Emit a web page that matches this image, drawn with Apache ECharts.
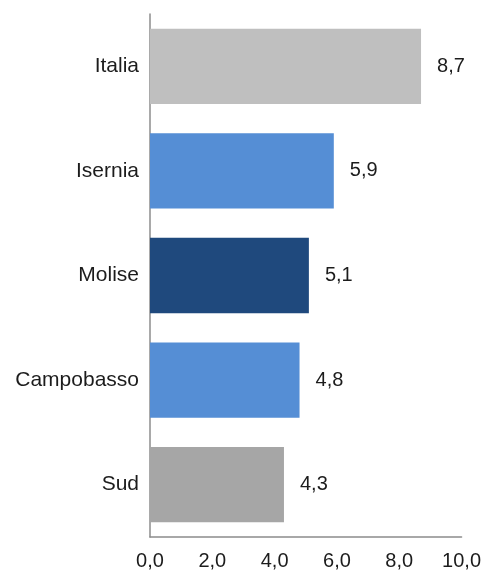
<!DOCTYPE html>
<html>
<head>
<meta charset="utf-8">
<script src="https://cdn.jsdelivr.net/npm/echarts@6/dist/echarts.min.js"></script>
<style>
  html, body { margin: 0; padding: 0; background: #fff; }
  #chart { width: 484px; height: 572px; }
</style>
</head>
<body>
<div id="chart"></div>
<script>
// Categories listed bottom-to-top (ECharts category y axis grows upward)
const categories = ['Sud', 'Campobasso', 'Molise', 'Isernia', 'Italia'];
const values = [4.3, 4.8, 5.1, 5.9, 8.7];
const barColors = ['#A6A6A6', '#558ED5', '#1F497D', '#558ED5', '#BFBFBF'];
const xTicks = { min: 0, max: 10, interval: 2 };

const fmt = v => Number(v).toFixed(1).replace('.', ',');
const font = 'Liberation Sans, Arial, sans-serif';
const textColor = '#1c1c1c';

const chart = echarts.init(document.getElementById('chart'), null, { renderer: 'canvas' });
chart.setOption({
  animation: false,
  backgroundColor: '#ffffff',
  grid: { left: 150, right: 22, top: 14, bottom: 35, containLabel: false },
  xAxis: {
    type: 'value',
    min: xTicks.min, max: xTicks.max, interval: xTicks.interval,
    axisLine: { show: true, lineStyle: { color: '#8C8C8C', width: 1.5 } },
    axisTick: { show: false },
    splitLine: { show: false },
    axisLabel: { formatter: fmt, color: textColor, fontSize: 20, fontFamily: font, margin: 14 }
  },
  yAxis: {
    type: 'category',
    data: categories,
    axisLine: { show: true, lineStyle: { color: '#8C8C8C', width: 1.5 } },
    axisTick: { show: false },
    axisLabel: { color: textColor, fontSize: 21, fontFamily: font, margin: 11 }
  },
  series: [{
    type: 'bar',
    barWidth: '72%',
    data: values.map((v, i) => ({ value: v, itemStyle: { color: barColors[i] } })),
    label: {
      show: true, position: 'right', distance: 16,
      formatter: p => fmt(p.value),
      color: textColor, fontSize: 20, fontFamily: font
    }
  }]
});
</script>
</body>
</html>
